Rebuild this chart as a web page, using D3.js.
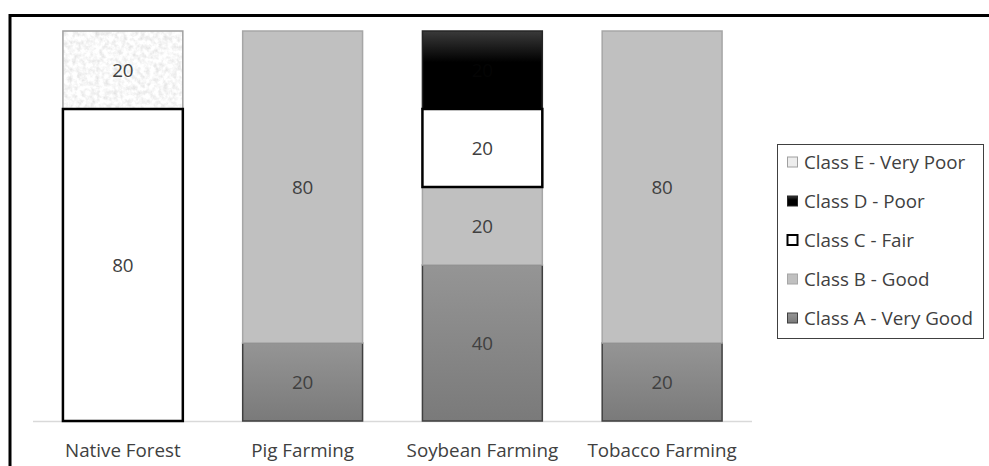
<!DOCTYPE html>
<html>
<head>
<meta charset="utf-8">
<script src="https://cdn.jsdelivr.net/npm/d3@7"></script>
<style>
  body { margin: 0; background: #fff; }
  text { font-family: "Open Sans", sans-serif; }
</style>
</head>
<body>
<div id="chart"></div>
<script>
// data
var categories = ["Native Forest", "Pig Farming", "Soybean Farming", "Tobacco Farming"];
var classes = ["Class A - Very Good", "Class B - Good", "Class C - Fair", "Class D - Poor", "Class E - Very Poor"];
var classA = [0, 20, 40, 20];
var classB = [0, 80, 20, 80];
var classC = [80, 0, 20, 0];
var classD = [0, 0, 20, 0];
var classE = [20, 0, 0, 0];
var series = [classA, classB, classC, classD, classE];

var width = 989, height = 466;
var fontSize = 18.8;

var svg = d3.select("#chart").append("svg")
  .attr("width", width)
  .attr("height", height);

var defs = svg.append("defs");

// gradient for class A
var gA = defs.append("linearGradient").attr("id", "gradA")
  .attr("x1", 0).attr("y1", 0).attr("x2", 0).attr("y2", 1);
gA.append("stop").attr("offset", "0%").attr("stop-color", "#959595");
gA.append("stop").attr("offset", "100%").attr("stop-color", "#7a7a7a");

// gradient for class D
var gD = defs.append("linearGradient").attr("id", "gradD")
  .attr("x1", 0).attr("y1", 0).attr("x2", 0).attr("y2", 1);
gD.append("stop").attr("offset", "0%").attr("stop-color", "#3a3a3a");
gD.append("stop").attr("offset", "40%").attr("stop-color", "#000");
gD.append("stop").attr("offset", "100%").attr("stop-color", "#000");

// speckled texture for class E
var f = defs.append("filter").attr("id", "noise")
  .attr("x", 0).attr("y", 0).attr("width", 1).attr("height", 1);
f.append("feTurbulence").attr("type", "fractalNoise")
  .attr("baseFrequency", 0.22).attr("numOctaves", 3).attr("seed", 3).attr("result", "t");
f.append("feColorMatrix").attr("in", "t").attr("type", "matrix")
  .attr("values", "-0.45 0 0 0 1.16  -0.45 0 0 0 1.16  -0.45 0 0 0 1.16  0 0 0 0 1")
  .attr("result", "c");
f.append("feComposite").attr("in", "c").attr("in2", "SourceGraphic").attr("operator", "in");

var fills = ["url(#gradA)", "#c0c0c0", "#ffffff", "url(#gradD)", "#ededed"];
var strokes = ["#404040", "#a6a6a6", "#000000", "#262626", "#a0a0a0"];
var strokeW = [1.5, 1.5, 2.5, 1.5, 1.5];
var labelColors = ["#404040", "#404040", "#404040", "#050505", "#404040"];

// outer frame
svg.append("rect")
  .attr("x", 10).attr("y", 15.5)
  .attr("width", 1200).attr("height", 800)
  .attr("fill", "none").attr("stroke", "#000").attr("stroke-width", 3);

var x = d3.scaleBand()
  .domain(categories)
  .range([33, 752])
  .paddingInner(0.333)
  .paddingOuter(0.1665);

var y = d3.scaleLinear().domain([0, 100]).range([421, 31]);

// stack
var rows = categories.map(function(c, i) {
  var r = { cat: c };
  classes.forEach(function(k, j) { r[k] = series[j][i]; });
  return r;
});
var stacked = d3.stack().keys(classes)(rows);

// axis baseline
svg.append("line")
  .attr("x1", 33).attr("x2", 752)
  .attr("y1", 421.5).attr("y2", 421.5)
  .attr("stroke", "#d9d9d9").attr("stroke-width", 1.5);

var layers = svg.append("g").selectAll("g")
  .data(stacked)
  .enter().append("g");

layers.selectAll("rect")
  .data(function(d) { return d.map(function(v) { return { k: d.index, v: v }; }).filter(function(o) { return o.v[1] > o.v[0]; }); })
  .enter().append("rect")
  .attr("x", function(d) { return x(d.v.data.cat); })
  .attr("y", function(d) { return y(d.v[1]); })
  .attr("width", x.bandwidth())
  .attr("height", function(d) { return y(d.v[0]) - y(d.v[1]); })
  .attr("fill", function(d) { return fills[d.k]; })
  .attr("filter", function(d) { return d.k == 4 ? "url(#noise)" : null; })
  .attr("stroke", function(d) { return d.k == 4 ? null : strokes[d.k]; })
  .attr("stroke-width", function(d) { return strokeW[d.k]; });

// border for textured segments (filter drops the stroke)
layers.filter(function(d) { return d.index == 4; }).selectAll("rect.edge")
  .data(function(d) { return d.filter(function(v) { return v[1] > v[0]; }); })
  .enter().append("rect")
  .attr("class", "edge")
  .attr("x", function(d) { return x(d.data.cat); })
  .attr("y", function(d) { return y(d[1]); })
  .attr("width", x.bandwidth())
  .attr("height", function(d) { return y(d[0]) - y(d[1]); })
  .attr("fill", "none")
  .attr("stroke", strokes[4]).attr("stroke-width", 1.5);

// class C borders on top so they stay crisp
layers.filter(function(d) { return d.index == 2; }).raise();

// value labels
layers.selectAll("text")
  .data(function(d) { return d.filter(function(v) { return v[1] > v[0]; }).map(function(v) { v.k = d.index; return v; }); })
  .enter().append("text")
  .attr("x", function(d) { return x(d.data.cat) + x.bandwidth() / 2; })
  .attr("y", function(d) { return (y(d[0]) + y(d[1])) / 2; })
  .attr("dy", "0.35em")
  .attr("text-anchor", "middle")
  .attr("font-size", fontSize)
  .attr("fill", function(d) { return labelColors[d.k]; })
  .text(function(d) { return d[1] - d[0]; });

// category labels
svg.append("g").selectAll("text")
  .data(categories)
  .enter().append("text")
  .attr("x", function(d) { return x(d) + x.bandwidth() / 2; })
  .attr("y", 450)
  .attr("dy", "0.35em")
  .attr("text-anchor", "middle")
  .attr("font-size", fontSize)
  .attr("fill", "#404040")
  .text(function(d) { return d; });

// legend
var legend = svg.append("g");
legend.append("rect")
  .attr("x", 777.5).attr("y", 144.5)
  .attr("width", 206).attr("height", 194)
  .attr("fill", "#fff").attr("stroke", "#404040").attr("stroke-width", 1);

var legendOrder = [4, 3, 2, 1, 0];
var items = legend.selectAll("g.item")
  .data(legendOrder)
  .enter().append("g")
  .attr("class", "item")
  .attr("transform", function(d, i) { return "translate(787," + (162 + i * 39) + ")"; });

items.append("rect")
  .attr("x", 0.5).attr("y", -5)
  .attr("width", 10).attr("height", 10)
  .attr("fill", function(d) { return fills[d]; })
  .attr("stroke", function(d) { return d == 2 ? "#000" : d == 4 ? "#a0a0a0" : strokes[d]; })
  .attr("stroke-width", function(d) { return d == 2 ? 2 : 1; });

items.append("text")
  .attr("x", 17)
  .attr("dy", "0.35em")
  .attr("font-size", fontSize)
  .attr("fill", "#404040")
  .text(function(d) { return classes[d]; });
</script>
</body>
</html>
